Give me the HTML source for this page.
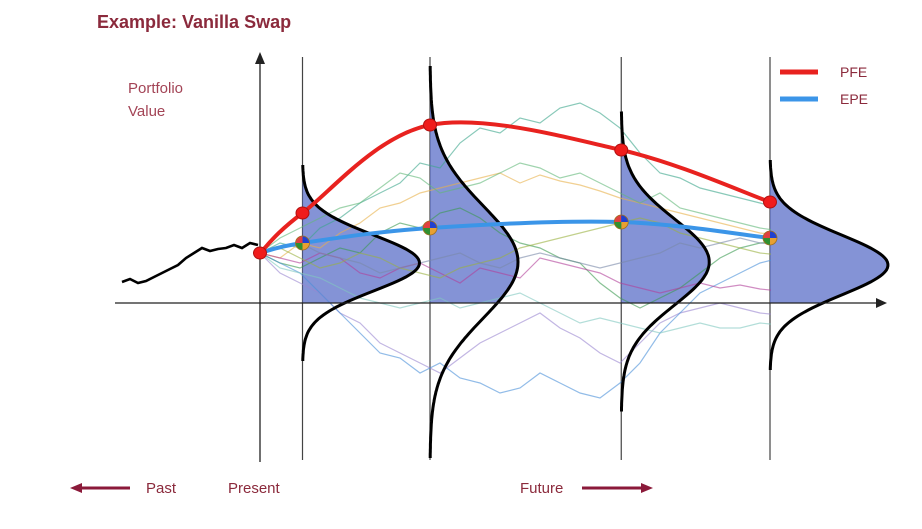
<!DOCTYPE html>
<html><head><meta charset="utf-8">
<style>
body{margin:0;background:#fff;width:922px;height:529px;overflow:hidden;font-family:"Liberation Sans",sans-serif}
svg{display:block}
</style></head>
<body>
<svg id="chart" width="922" height="529" xmlns="http://www.w3.org/2000/svg">
  <text x="97" y="28" font-size="18" font-weight="bold" fill="#8b2a3c">Example: Vanilla Swap</text>
  <text x="128" y="93" font-size="15" fill="#a34456">Portfolio</text>
  <text x="128" y="116" font-size="15" fill="#a34456">Value</text>
  <g id="dists"></g>
  <g id="paths"></g>
  <g id="curves"></g>
  <g id="axes">
    <line x1="115" y1="303" x2="878" y2="303" stroke="#222" stroke-width="1.3"/>
    <polygon points="887,303 876,298 876,308" fill="#222"/>
    <line x1="260" y1="462" x2="260" y2="62" stroke="#222" stroke-width="1.3"/>
    <polygon points="260,52 255,64 265,64" fill="#222"/>
  </g>
  <g id="lines"></g>
  <g>
    <line x1="780" y1="72" x2="818" y2="72" stroke="#e8221f" stroke-width="5"/>
    <text x="840" y="77" font-size="14" fill="#8b2a3c">PFE</text>
    <line x1="780" y1="99" x2="818" y2="99" stroke="#3b95e8" stroke-width="5"/>
    <text x="840" y="104" font-size="14" fill="#8b2a3c">EPE</text>
  </g>
  <g>
    <line x1="130" y1="488" x2="80" y2="488" stroke="#8b1a3a" stroke-width="3"/>
    <polygon points="70,488 82,483 82,493" fill="#8b1a3a"/>
    <text x="146" y="493" font-size="15" fill="#8b2a3c">Past</text>
    <text x="228" y="493" font-size="15" fill="#8b2a3c">Present</text>
    <text x="520" y="493" font-size="15" fill="#8b2a3c">Future</text>
    <line x1="582" y1="488" x2="642" y2="488" stroke="#8b1a3a" stroke-width="3"/>
    <polygon points="653,488 641,483 641,493" fill="#8b1a3a"/>
  </g>
</svg>
<script>
// data (value units; 0 = x-axis)
const historyValues = [21,24,20,22,26,30,34,38,45,50,55,52,54,55,58,55,60,58];
const pathP1 = [50,60,55,75,85,100,110,120,140,135,160,175,170,185,180,195,200,190,175,150,130,125,115,110,105,100,95];
const pathP2 = [50,45,60,55,70,80,95,100,110,115,120,125,130,120,128,122,118,112,105,100,95,90,85,80,75,70,68];
const pathP3 = [50,40,35,45,55,50,70,80,75,90,95,85,70,60,55,45,40,20,5,-5,5,15,30,45,55,60,62];
const pathP4 = [50,30,20,10,-10,-20,-40,-50,-60,-70,-55,-40,-30,-20,-10,-25,-35,-50,-60,-40,-20,-10,-5,0,-5,-10,-12];
const pathP5 = [50,40,30,10,-10,-30,-50,-55,-70,-60,-75,-80,-90,-85,-70,-80,-90,-95,-80,-60,-30,-10,10,20,30,40,45];
const pathP6 = [50,45,40,50,45,30,25,35,40,30,20,35,30,25,45,40,35,30,20,15,10,15,20,15,18,14,12];
const pathP7 = [50,55,45,35,40,50,45,35,30,25,35,40,45,55,60,65,70,75,80,85,80,70,65,60,55,50,48];
const pathP8 = [50,35,30,25,15,5,0,-5,0,5,-5,0,5,10,0,-10,-20,-15,-20,-25,-30,-25,-20,-25,-25,-20,-22];
const pathP9 = [50,55,60,50,45,40,30,35,40,45,50,40,35,45,50,45,40,35,40,45,50,60,55,60,65,60,58];
const pathP10 = [50,65,75,85,95,100,115,130,125,110,115,120,130,140,135,125,130,120,110,100,110,95,90,85,80,75,72];
const pathColors = ["#3aa58a","#e8b04a","#3a9a50","#9a86d0","#4a8fd8","#b0409a","#9ab040","#80c8c0","#7a88a8","#60b878"];
const times = [0, 1, 4, 8.5, 12];
const pfeValues = [50, 90, 178, 153, 101];
const epeValues = [50, 60, 75, 81, 65];
const distTimes = [1, 4, 8.5, 12];
const distMeans = [40, 41, 41, 38];
const distSigmas = [28, 56, 43, 30];
const distPeaks = [117, 88, 88, 118];

const X0 = 260, Y0 = 303;
const xScale = t => X0 + t * (770 - 260) / 12;
const yScale = v => Y0 - v;
const pathStepT = 12 * 20 / 510;
const histX = i => 122 + i * 8;
const NS = "http://www.w3.org/2000/svg";
function mk(tag, attrs, parent){const e=document.createElementNS(NS,tag);for(const k in attrs)e.setAttribute(k,attrs[k]);parent.appendChild(e);return e;}

// vertical time lines + distribution fills
const distG = document.getElementById('dists');
const curveG = document.getElementById('curves');
distTimes.forEach((t,k)=>{
  const x0 = xScale(t), mu = yScale(distMeans[k]), s = distSigmas[k], A = distPeaks[k];
  const top = mu - 3.5*s, bot = mu + 3.5*s;
  const ln = mk('line',{x1:x0,y1:57,x2:x0,y2:460,stroke:'#444','stroke-width':1.2},distG);
  
  
  const pts=[]; for(let y=top;y<=bot;y+=2){pts.push([x0+A*Math.exp(-((y-mu)*(y-mu))/(2*s*s)),y]);}
  const fillPts = pts.filter(p=>p[1]<=Y0);
  let fd = 'M'+x0+','+top+' '+fillPts.map(p=>'L'+p[0].toFixed(1)+','+p[1].toFixed(1)).join(' ');
  const lastX = x0+A*Math.exp(-((Y0-mu)*(Y0-mu))/(2*s*s));
  fd += ' L'+lastX.toFixed(1)+','+Y0+' L'+x0+','+Y0+' Z';
  const f = mk('path',{d:fd,fill:'#5b6fc8','fill-opacity':0.75},distG);
  
  
  const c = mk('path',{d:pts.map((p,i)=>(i?'L':'M')+p[0].toFixed(1)+','+p[1].toFixed(1)).join(' '),fill:'none',stroke:'#000','stroke-width':3},curveG);
  
  
});

// simulated paths
const pathsG = document.getElementById('paths');
const clip = mk('clipPath',{id:'pclip'},document.getElementById('chart'));
mk('rect',{x:260,y:0,width:511,height:529},clip);
pathsG.setAttribute('clip-path','url(#pclip)');
[pathP1,pathP2,pathP3,pathP4,pathP5,pathP6,pathP7,pathP8,pathP9,pathP10].forEach((arr,k)=>{
  const d = arr.map((v,i)=>(i?'L':'M')+xScale(i*pathStepT).toFixed(1)+','+yScale(v)).join(' ');
  const p = mk('path',{d:d,fill:'none',stroke:pathColors[k],'stroke-width':1.2,opacity:0.6},pathsG);
  
  
});

// history
const linesG = document.getElementById('lines');
const h = mk('path',{d:historyValues.map((v,i)=>(i?'L':'M')+histX(i)+','+yScale(v)).join(' '),fill:'none',stroke:'#000','stroke-width':2.6},linesG);



function smooth(vals, color, name){
  const p = vals.map((v,i)=>[xScale(times[i]),yScale(v)]);
  let d='M'+p[0][0]+','+p[0][1];
  for(let i=0;i<p.length-1;i++){
    const p0=p[i-1]||p[i],p1=p[i],p2=p[i+1],p3=p[i+2]||p2;
    d+=' C'+(p1[0]+(p2[0]-p0[0])/6)+','+(p1[1]+(p2[1]-p0[1])/6)+' '+(p2[0]-(p3[0]-p1[0])/6)+','+(p2[1]-(p3[1]-p1[1])/6)+' '+p2[0]+','+p2[1];
  }
  const e = mk('path',{d:d,fill:'none',stroke:color,'stroke-width':4},linesG);
  
  
  return p;
}
const epePts = smooth(epeValues,'#3b95e8','epe-line');
const pfePts = smooth(pfeValues,'#e8221f','pfe-line');
pfePts.forEach(p=>{
  const c = mk('ellipse',{cx:p[0],cy:p[1],rx:6.5,ry:6,fill:'#f01c1c',stroke:'#b01010','stroke-width':1},linesG);
  
  
});
epePts.slice(1).forEach(p=>{
  const g = mk('g',{},linesG);
  
  
  const r=7,[cx,cy]=p;
  mk('path',{d:`M${cx},${cy} L${cx},${cy-r} A${r},${r} 0 0 0 ${cx-r},${cy} Z`,fill:'#e04040'},g);
  mk('path',{d:`M${cx},${cy} L${cx},${cy-r} A${r},${r} 0 0 1 ${cx+r},${cy} Z`,fill:'#2040d0'},g);
  mk('path',{d:`M${cx},${cy} L${cx+r},${cy} A${r},${r} 0 0 1 ${cx},${cy+r} Z`,fill:'#e8a030'},g);
  mk('path',{d:`M${cx},${cy} L${cx},${cy+r} A${r},${r} 0 0 1 ${cx-r},${cy} Z`,fill:'#309030'},g);
  mk('circle',{cx:cx,cy:cy,r:r,fill:'none',stroke:'#a07020','stroke-width':0.8},g);
});
</script>
</body></html>
